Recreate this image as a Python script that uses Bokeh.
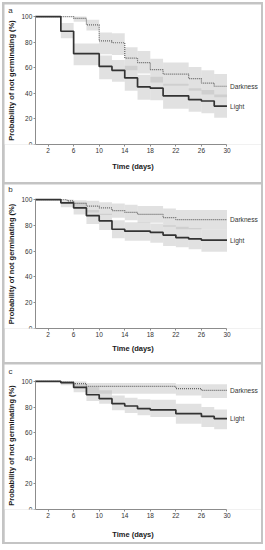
import math
from bokeh.plotting import figure
from bokeh.layouts import column
from bokeh.models import Range1d, FixedTicker, ColumnDataSource
from bokeh.core.properties import value
from bokeh.embed import file_html
from bokeh.resources import INLINE

NAN = float("nan")

# ---- Panel a ----
a_light_t = [0, 4, 6, 10, 12, 14, 16, 18, 20, 24, 26, 28, 30]
a_light_s = [100, 88.5, 71, 61, 58, 52, 45, 44, 38, 35, 34, 30, 30]
a_light_lo = [NAN, 83, 62, 51, 49, 42, 35, 34.5, 28, 25.5, 24.5, 21]
a_light_hi = [NAN, 95, 79, 69.5, 66, 61.5, 54.5, 53, 47.5, 44, 42.5, 39]
a_dark_t = [0, 6, 8, 10, 12, 14, 16, 18, 20, 24, 26, 28, 30]
a_dark_s = [100, 98.5, 93.5, 81, 79.5, 67.5, 64, 58.5, 55, 51.5, 48, 45.5, 45.5]
a_dark_lo = [NAN, 96, 89, 70.5, 70, 58, 55.5, 48.5, 46, 42, 39, 37]
a_dark_hi = [NAN, 100, 97.5, 87.5, 87, 76, 73, 67, 64, 60.5, 58, 55]

# ---- Panel b ----
b_light_t = [0, 4, 6, 8, 10, 12, 14, 18, 20, 22, 24, 26, 30]
b_light_s = [100, 97.5, 93.5, 87.5, 83.5, 77, 75.5, 74.5, 72.5, 70.5, 69.5, 68.5, 68.5]
b_light_lo = [NAN, 94, 88.5, 81, 76.5, 70, 68, 66.5, 64, 63, 61.5, 59.5]
b_light_hi = [NAN, 99.5, 98, 92, 89, 84, 82.5, 81.5, 80, 79, 78, 77]
b_dark_t = [0, 5, 6, 8, 10, 12, 14, 16, 20, 22, 30]
b_dark_s = [100, 99, 97, 95, 93.5, 91.5, 90, 88.5, 86, 84.5, 84.5]
b_dark_lo = [NAN, 97, 93, 90, 88, 86, 84, 82, 79, 77]
b_dark_hi = [NAN, 100, 99.5, 99, 98, 97, 96, 95, 93, 92]

# ---- Panel c ----
c_light_t = [0, 4, 6, 8, 10, 12, 14, 16, 18, 22, 26, 28, 30]
c_light_s = [100, 99, 95.3, 89.6, 86.5, 82.6, 80.8, 78.7, 77.7, 74.8, 72.7, 70.9, 70.9]
c_light_lo = [NAN, 97, 91.5, 84.7, 82.6, 77.4, 75.3, 73.5, 72.2, 67, 64.4, 62.6]
c_light_hi = [NAN, 100, 98, 95.6, 93, 89, 87.3, 86, 85.7, 82.6, 80, 78]
c_dark_t = [0, 4, 6, 8, 22, 26, 30]
c_dark_s = [100, 99.5, 98.2, 96.1, 94.3, 93, 93]
c_dark_lo = [NAN, 98, 95, 90.4, 89, 87]
c_dark_hi = [NAN, 100, 100, 98.7, 97.7, 97.7]

panel_letters = ["a", "b", "c"]
series_names = ["Light", "Darkness"]
x_ticks = [2, 6, 10, 14, 18, 22, 26, 30]
y_ticks = [0, 20, 40, 60, 80, 100]

FONT = "Liberation Sans"
W, H = 257, 178
X0, X1 = -4.82, 35.4
# per-panel layout: (y range end, bottom border, x title standoff, letter y, margin)
LAYOUT = [
    (109.4, 38, 6, 105.1, (2, 2, 1, 2)),
    (111.7, 34, 4, 107.8, (1, 2, 1, 2)),
    (113.2, 33, 9, 107.7, (1, 2, 2, 2)),
]


def bands(t, lo, hi):
    L, R, B, T = [], [], [], []
    for i in range(len(lo)):
        if not (math.isnan(lo[i]) or math.isnan(hi[i])):
            L.append(t[i]); R.append(t[i + 1]); B.append(lo[i]); T.append(hi[i])
    return ColumnDataSource(dict(left=L, right=R, bottom=B, top=T))


def make_panel(idx, lt, ls, llo, lhi, dt, ds, dlo, dhi):
    letter = panel_letters[idx]
    y_end, bottom, xstand, letter_y, margin = LAYOUT[idx]
    p = figure(width=W, height=H, output_backend="svg", toolbar_location=None,
               x_range=Range1d(X0, X1), y_range=Range1d(0, y_end),
               min_border_left=0, min_border_right=0, min_border_top=0,
               min_border_bottom=bottom, margin=margin)
    p.outline_line_color = None
    p.grid.visible = False
    p.background_fill_color = "white"
    p.border_fill_color = "white"

    p.quad(source=bands(lt, llo, lhi), left="left", right="right", bottom="bottom", top="top",
           fill_color="#b4b4b4", fill_alpha=0.4, line_color=None)
    p.quad(source=bands(dt, dlo, dhi), left="left", right="right", bottom="bottom", top="top",
           fill_color="#b4b4b4", fill_alpha=0.4, line_color=None)

    p.step(dt, ds, mode="after", line_color="#666666", line_width=1.2, line_dash="1 1")
    p.step(lt, ls, mode="after", line_color="#333333", line_width=1.7)

    p.text(x=[dt[-1], lt[-1]], y=[ds[-1], ls[-1]], text=[series_names[1], series_names[0]],
           x_offset=3, text_baseline="middle", text_font=value(FONT),
           text_font_size="6.6px", text_color="#333333")
    p.text(x=[-3.88], y=[letter_y], text=[letter], text_baseline="middle", text_align="center",
           text_font=value(FONT), text_font_size="8px", text_color="#333333")

    p.xaxis.ticker = FixedTicker(ticks=x_ticks)
    p.yaxis.ticker = FixedTicker(ticks=y_ticks)
    p.xaxis.bounds = (0, 30)
    p.yaxis.bounds = (0, 100)
    p.yaxis.fixed_location = 0
    p.xaxis.axis_label = "Time (days)"
    p.yaxis.axis_label = "Probability of not germinating (%)"
    for ax in (p.xaxis, p.yaxis):
        ax.axis_line_color = "#8c8c8c"
        ax.major_tick_line_color = "#8c8c8c"
        ax.minor_tick_line_color = None
        ax.major_tick_out = 2
        ax.major_tick_in = 0
        ax.major_label_text_font = FONT
        ax.major_label_text_font_size = "6.5px"
        ax.major_label_text_color = "#333333"
        ax.major_label_standoff = 1
        ax.axis_label_text_font = FONT
        ax.axis_label_text_font_size = "7.5px"
        ax.axis_label_text_font_style = "bold"
        ax.axis_label_text_color = "#1a1a1a"
    p.xaxis.axis_label_standoff = xstand
    p.yaxis.axis_label_standoff = 3
    return p


pa = make_panel(0, a_light_t, a_light_s, a_light_lo, a_light_hi,
                a_dark_t, a_dark_s, a_dark_lo, a_dark_hi)
pb = make_panel(1, b_light_t, b_light_s, b_light_lo, b_light_hi,
                b_dark_t, b_dark_s, b_dark_lo, b_dark_hi)
pc = make_panel(2, c_light_t, c_light_s, c_light_lo, c_light_hi,
                c_dark_t, c_dark_s, c_dark_lo, c_dark_hi)

layout = column(pa, pb, pc, spacing=0, margin=(2, 0, 0, 2),
                styles={"background-color": "#c4c4c4"})
open("out.html", "w").write(file_html(layout, INLINE))
